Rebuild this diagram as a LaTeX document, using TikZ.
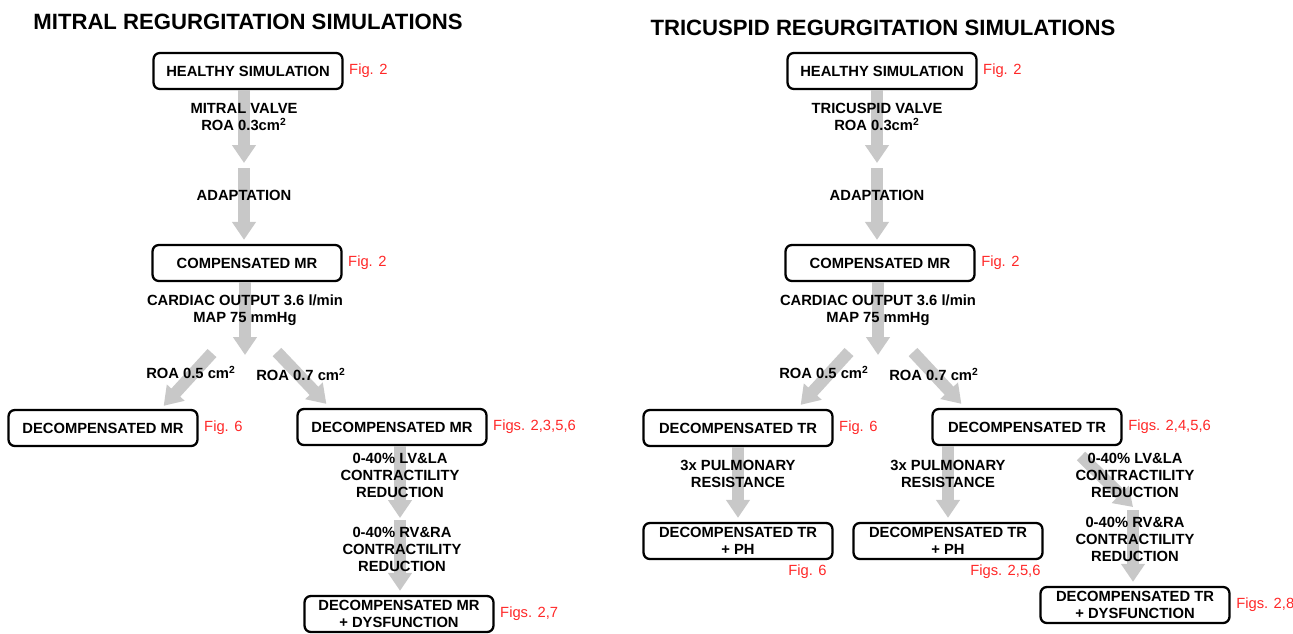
\documentclass[tikz,border=0pt]{standalone}
\usepackage{fontspec}
\setmainfont{Liberation Sans}
\usetikzlibrary{arrows.meta,positioning,calc}
\definecolor{figred}{RGB}{255,40,40}
\definecolor{flowgray}{RGB}{200,200,200}
\begin{document}
\begin{tikzpicture}[
    x=0.02cm, y=-0.02cm,
    font=\fontsize{8.4}{9.7}\selectfont\bfseries,
    stagebox/.style={
        draw,
        line width=1.3pt,
        rounded corners=3.6pt,
        minimum width=3.78cm,
        minimum height=0.72cm,
        align=center,
        inner sep=1pt
    },
    figref/.style={text=figred, font=\fontsize{8.4}{9.7}\selectfont, inner sep=1pt},
    note/.style={align=center, inner sep=0pt},
    heading/.style={font=\fontsize{12.6}{14}\selectfont\bfseries},
    flow/.style={flowgray, line width=0.24cm, -{Triangle[width=0.46cm,length=0.36cm]}}
]
    \useasboundingbox (0,0) rectangle (1293,633);

    % mitral side
    \node[heading] (titleL) at (248,22) {MITRAL REGURGITATION SIMULATIONS};
    \node[stagebox] (healthyL) at (248,71) {HEALTHY SIMULATION};
    \node[figref, right=0.07cm of healthyL] (figHL) {Fig. 2};
    \node[stagebox] (compL) at (247,263) {COMPENSATED MR};
    \node[figref, right=0.07cm of compL] (figCL) {Fig. 2};
    \node[stagebox] (decL1) at (103,428) {DECOMPENSATED MR};
    \node[figref, right=0.07cm of decL1] (figDL1) {Fig. 6};
    \node[stagebox] (decL2) at (392,427) {DECOMPENSATED MR};
    \node[figref, right=0.07cm of decL2] (figDL2) {Figs. 2,3,5,6};
    \node[stagebox] (dysL) at (399,614) {DECOMPENSATED MR\\+ DYSFUNCTION};
    \node[figref, right=0.07cm of dysL] (figYL) {Figs. 2,7};

    \coordinate (mL1) at (244,163);
    \coordinate (mL2) at (244,168);
    \coordinate (mL3) at (245,355);
    \coordinate (dL1) at (212,353);
    \coordinate (dL2) at (277,352);
    \coordinate (mL4) at (400,518);
    \coordinate (mL5) at (400,520);
    \draw[flow] (healthyL.south -| mL1) -- (mL1);
    \draw[flow, shorten >=0.08cm] (mL2) -- (mL2 |- compL.north);
    \draw[flow] (compL.south -| mL3) -- (mL3);
    \draw[flow] (dL1) -- ($(decL1.north east)+(-35,-3)$);
    \draw[flow] (dL2) -- ($(decL2.north west)+(30,-4)$);
    \draw[flow] (decL2.south -| mL4) -- (mL4);
    \draw[flow, shorten >=0.08cm] (mL5) -- (mL5 |- dysL.north);

    \node[note] (valveL) at (244,117) {MITRAL VALVE\\ROA 0.3cm\textsuperscript{2}};
    \node[note] (adaptL) at (244,195) {ADAPTATION};
    \node[note] (outL) at (245,310) {CARDIAC OUTPUT 3.6 l/min\\MAP 75 mmHg};
    \node[note] (roaL1) at (191,372) {ROA 0.5 cm\textsuperscript{2}};
    \node[note] (roaL2) at (301,374) {ROA 0.7 cm\textsuperscript{2}};
    \node[note] (lvL) at (400,475) {0-40\% LV\&LA\\CONTRACTILITY\\REDUCTION};
    \node[note] (rvL) at (402,549) {0-40\% RV\&RA\\CONTRACTILITY\\REDUCTION};

    % tricuspid side
    \node[heading] (titleR) at (883,28) {TRICUSPID REGURGITATION SIMULATIONS};
    \node[stagebox] (healthyR) at (882,71) {HEALTHY SIMULATION};
    \node[figref, right=0.07cm of healthyR] (figHR) {Fig. 2};
    \node[stagebox] (compR) at (880,263) {COMPENSATED MR};
    \node[figref, right=0.07cm of compR] (figCR) {Fig. 2};
    \node[stagebox] (decR1) at (738,428) {DECOMPENSATED TR};
    \node[figref, right=0.07cm of decR1] (figDR1) {Fig. 6};
    \node[stagebox] (decR2) at (1027,427) {DECOMPENSATED TR};
    \node[figref, right=0.07cm of decR2] (figDR2) {Figs. 2,4,5,6};
    \node[stagebox] (phR1) at (738,541) {DECOMPENSATED TR\\+ PH};
    \node[figref, below left=0.05cm and 0.1cm of phR1.south east] (figPR1) {Fig. 6};
    \node[stagebox] (phR2) at (948,541) {DECOMPENSATED TR\\+ PH};
    \node[figref, below left=0.05cm and 0.02cm of phR2.south east] (figPR2) {Figs. 2,5,6};
    \node[stagebox] (dysR) at (1135,605) {DECOMPENSATED TR\\+ DYSFUNCTION};
    \node[figref, right=0.07cm of dysR] (figYR) {Figs. 2,8};

    \coordinate (mR1) at (877,163);
    \coordinate (mR2) at (877,168);
    \coordinate (mR3) at (878,355);
    \coordinate (dR1) at (849,352);
    \coordinate (dR2) at (913,352);
    \coordinate (dR3) at (1081,456);
    \coordinate (dR4) at (1133,507);
    \coordinate (mR4) at (1133,510);
    \draw[flow] (healthyR.south -| mR1) -- (mR1);
    \draw[flow, shorten >=0.08cm] (mR2) -- (mR2 |- compR.north);
    \draw[flow] (compR.south -| mR3) -- (mR3);
    \draw[flow] (dR1) -- ($(decR1.north east)+(-33,-4)$);
    \draw[flow] (dR2) -- ($(decR2.north west)+(30,-4)$);
    \draw[flow, shorten >=0.08cm] (decR1) -- (phR1);
    \draw[flow, shorten >=0.08cm] (decR2.south -| phR2) -- (phR2.north);
    \draw[flow] (dR3) -- (dR4);
    \draw[flow, shorten >=0.08cm] (mR4) -- (mR4 |- dysR.north);

    \node[note] (valveR) at (877,117) {TRICUSPID VALVE\\ROA 0.3cm\textsuperscript{2}};
    \node[note] (adaptR) at (877,195) {ADAPTATION};
    \node[note] (outR) at (878,310) {CARDIAC OUTPUT 3.6 l/min\\MAP 75 mmHg};
    \node[note] (roaR1) at (824,372) {ROA 0.5 cm\textsuperscript{2}};
    \node[note] (roaR2) at (934,374) {ROA 0.7 cm\textsuperscript{2}};
    \node[note] (pulR1) at (738,474) {3x PULMONARY\\RESISTANCE};
    \node[note] (pulR2) at (948,474) {3x PULMONARY\\RESISTANCE};
    \node[note] (lvR) at (1135,475) {0-40\% LV\&LA\\CONTRACTILITY\\REDUCTION};
    \node[note] (rvR) at (1135,539) {0-40\% RV\&RA\\CONTRACTILITY\\REDUCTION};
\end{tikzpicture}
\end{document}
